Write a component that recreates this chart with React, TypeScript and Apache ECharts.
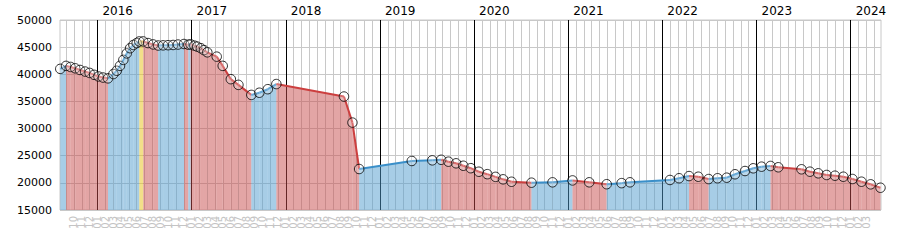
import React, { useEffect, useRef } from "react";
import * as echarts from "echarts";

// Price history (date, price)
const dates = [
  "2015-08-09", "2015-09-01", "2015-09-18", "2015-10-06", "2015-10-25", "2015-11-14",
  "2015-12-01", "2015-12-19", "2016-01-05", "2016-01-23", "2016-02-11", "2016-03-02",
  "2016-03-15", "2016-03-28", "2016-04-10", "2016-04-23", "2016-05-06", "2016-05-19",
  "2016-06-01", "2016-06-11", "2016-06-26", "2016-07-15", "2016-08-04", "2016-08-24",
  "2016-09-12", "2016-10-01", "2016-10-21", "2016-11-09", "2016-12-02", "2016-12-19",
  "2016-12-28", "2017-01-12", "2017-01-23", "2017-02-06", "2017-02-17", "2017-03-01",
  "2017-04-07", "2017-04-30", "2017-06-01", "2017-06-30", "2017-08-20", "2017-09-20",
  "2017-10-23", "2017-11-25", "2018-08-14", "2018-09-16", "2018-10-12", "2019-05-03",
  "2019-07-22", "2019-08-26", "2019-09-23", "2019-10-23", "2019-11-20", "2019-12-19",
  "2020-01-20", "2020-02-21", "2020-03-24", "2020-04-22", "2020-05-25", "2020-08-11",
  "2020-11-01", "2021-01-18", "2021-03-22", "2021-05-29", "2021-07-26", "2021-08-28",
  "2022-01-31", "2022-03-05", "2022-04-13", "2022-05-19", "2022-06-28", "2022-08-02",
  "2022-09-07", "2022-10-09", "2022-11-17", "2022-12-19", "2023-01-21", "2023-02-23",
  "2023-03-25", "2023-06-23", "2023-07-26", "2023-08-28", "2023-09-29", "2023-11-01",
  "2023-12-03", "2024-01-08", "2024-02-12", "2024-03-18", "2024-04-25",
];
const prices = [
  41000, 41550, 41350, 41100, 40800, 40500,
  40250, 39900, 39600, 39400, 39250, 40050,
  40650, 41550, 42650, 43850, 44800, 45400,
  45750, 46050, 46050, 45750, 45500, 45300,
  45330, 45360, 45400, 45480, 45580, 45450,
  45520, 45280, 45100, 44800, 44450, 44050,
  43250, 41550, 39100, 38050, 36200, 36600,
  37250, 38200, 35900, 31100, 22550, 24030,
  24150, 24250, 23900, 23600, 23150, 22700,
  22050, 21600, 21100, 20650, 20200, 20030,
  20100, 20450, 20100, 19750, 19950, 20100,
  20530, 20850, 21250, 21130, 20700, 20850,
  20950, 21580, 22180, 22680, 22980, 23110,
  22870, 22500, 22060, 21760, 21450, 21320,
  21130, 20710, 20210, 19730, 19100,
];
const years = [2016, 2017, 2018, 2019, 2020, 2021, 2022, 2023, 2024];
const rangeStart = "2015-08-08";
const rangeEnd = "2024-04-27";
const firstMonthTick = "2015-09-01";
const lastMonthTick = "2024-04-01";
const yMin = 15000;
const yMax = 50000;
const yStep = 5000;

const BASE_YEAR = 2015;
function toMonths(s: string): number {
  const [y, mo, d] = s.split("-").map(Number);
  const dim = new Date(y, mo, 0).getDate();
  return (y - BASE_YEAR) * 12 + (mo - 1) + (d - 1) / dim;
}

const COLORS: Record<number, { area: string; line: string }> = {
  1: { area: "rgba(80,155,205,0.5)", line: "#3a8fc9" },
  [-1]: { area: "rgba(200,75,75,0.5)", line: "#cc3f3f" },
  0: { area: "rgba(232,196,40,0.55)", line: "#e0a810" },
};

export default function App() {
  const ref = useRef<HTMLDivElement>(null);
  useEffect(() => {
    if (!ref.current) return;
    const chart = echarts.init(ref.current, null, { renderer: "svg" });
    const xs = dates.map(toMonths);
    const segments = xs.slice(0, -1).map((x, i) => {
      const d = prices[i + 1] - prices[i];
      return [x, prices[i], xs[i + 1], prices[i + 1], d > 0 ? 1 : d < 0 ? -1 : 0];
    });
    const xMin = toMonths(rangeStart);
    const xMax = toMonths(rangeEnd);
    const monthTicks: number[] = [];
    for (let m = toMonths(firstMonthTick); m <= toMonths(lastMonthTick) + 0.001; m++) monthTicks.push(Math.round(m));
    const yearTicks = years.map((y) => toMonths(`${y}-01-01`));
    const font = "DejaVu Sans";

    chart.setOption({
      animation: false,
      grid: {
        left: 60, right: 19, top: 20, bottom: 40,
        show: true, borderColor: "#c8c8c8", borderWidth: 1, backgroundColor: "transparent",
      },
      xAxis: [
        {
          type: "value", position: "bottom", min: xMin, max: xMax,
          axisLine: { show: false },
          axisTick: { show: false, customValues: monthTicks },
          axisLabel: {
            customValues: monthTicks,
            rotate: 90, fontSize: 10, fontFamily: font, color: "#c4c4c4", margin: 6,
            formatter: (v: number) => String((((Math.round(v) % 12) + 12) % 12) + 1).padStart(2, "0"),
          },
          splitLine: { show: true, lineStyle: { color: "#c8c8c8", width: 1 } },
        },
        {
          type: "value", position: "top", min: xMin, max: xMax, z: 1,
          axisLine: { show: false },
          axisTick: { show: false, customValues: yearTicks },
          axisLabel: {
            customValues: yearTicks,
            fontSize: 12, fontFamily: font, color: "#000", margin: 3, align: "left",
            padding: [0, 0, 0, 5],
            formatter: (v: number) => String(BASE_YEAR + Math.round(v / 12)),
          },
          splitLine: { show: true, lineStyle: { color: "#000", width: 1 } },
        },
      ],
      yAxis: {
        type: "value", min: yMin, max: yMax, interval: yStep,
        axisLine: { show: false }, axisTick: { show: false },
        axisLabel: { fontSize: 11, fontFamily: font, color: "#000", margin: 8, formatter: (v: number) => String(v) },
        splitLine: { show: true, lineStyle: { color: "#c8c8c8", width: 1 } },
      },
      series: [
        {
          type: "custom", xAxisIndex: 0, z: 2,
          data: segments,
          encode: { x: [0, 2], y: [1, 3] },
          renderItem: (params: any, api: any) => {
            const p0 = api.coord([api.value(0), api.value(1)]);
            const p1 = api.coord([api.value(2), api.value(3)]);
            const b0 = api.coord([api.value(0), yMin]);
            const b1 = api.coord([api.value(2), yMin]);
            const c = COLORS[api.value(4)];
            return { type: "polygon", shape: { points: [p0, p1, b1, b0] }, style: { fill: c.area } };
          },
        },
        {
          type: "custom", xAxisIndex: 0, z: 3,
          data: segments,
          encode: { x: [0, 2], y: [1, 3] },
          renderItem: (params: any, api: any) => {
            const p0 = api.coord([api.value(0), api.value(1)]);
            const p1 = api.coord([api.value(2), api.value(3)]);
            const c = COLORS[api.value(4)];
            return {
              type: "line",
              shape: { x1: p0[0], y1: p0[1], x2: p1[0], y2: p1[1] },
              style: { stroke: c.line, lineWidth: 2 },
            };
          },
        },
        {
          type: "scatter", xAxisIndex: 0, z: 4, clip: false,
          data: xs.map((x, i) => [x, prices[i]]),
          symbol: "circle", symbolSize: 9.5,
          itemStyle: { color: "rgba(255,255,255,0.3)", borderColor: "#000", borderWidth: 1 },
          emphasis: { disabled: true },
        },
      ],
    });
    return () => chart.dispose();
  }, []);
  return <div ref={ref} style={{ width: 900, height: 250, position: "absolute", left: 0, top: 0 }} />;
}
